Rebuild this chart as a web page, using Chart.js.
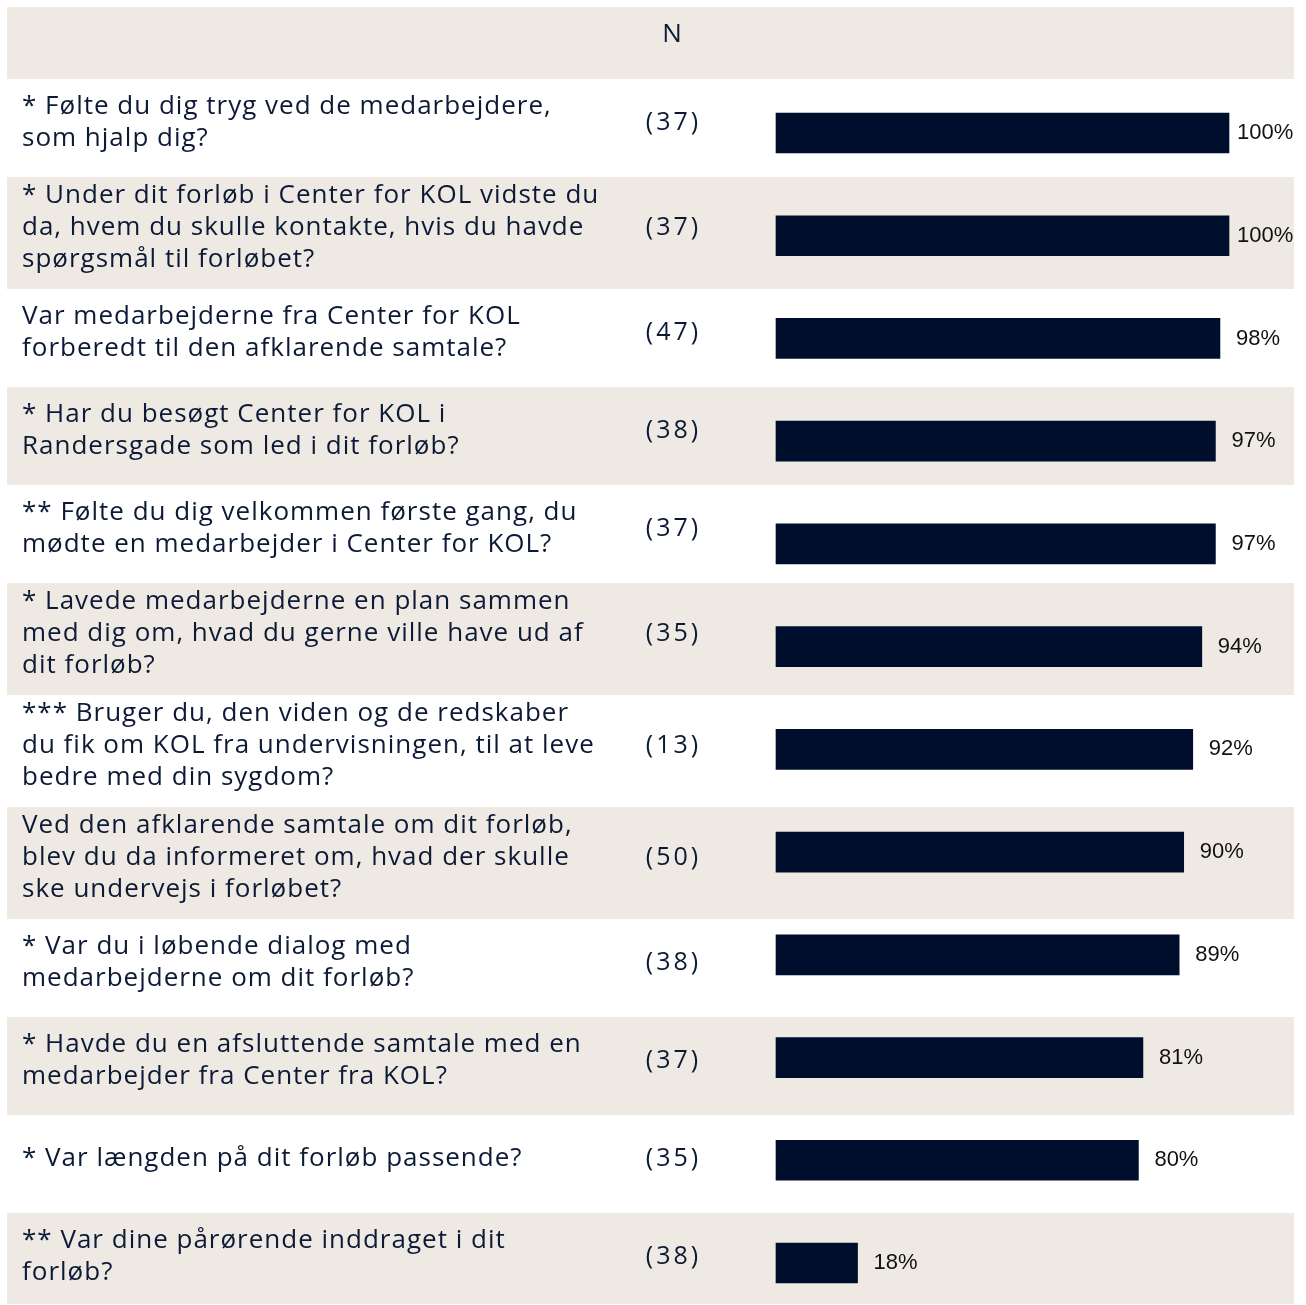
<!DOCTYPE html>
<html>
<head>
<meta charset="utf-8">
<script src="https://cdn.jsdelivr.net/npm/chart.js@4"></script>
<style>
html,body{margin:0;padding:0;background:#fff;}
canvas{display:block;}
</style>
</head>
<body>
<canvas id="c" width="1306" height="1305"></canvas>
<script>
// ---- data ----
const questions = [
  ["* Følte du dig tryg ved de medarbejdere,", "som hjalp dig?"],
  ["* Under dit forløb i Center for KOL vidste du", "da, hvem du skulle kontakte, hvis du havde", "spørgsmål til forløbet?"],
  ["Var medarbejderne fra Center for KOL", "forberedt til den afklarende samtale?"],
  ["* Har du besøgt Center for KOL i", "Randersgade som led i dit forløb?"],
  ["** Følte du dig velkommen første gang, du", "mødte en medarbejder i Center for KOL?"],
  ["* Lavede medarbejderne en plan sammen", "med dig om, hvad du gerne ville have ud af", "dit forløb?"],
  ["*** Bruger du, den viden og de redskaber", "du fik om KOL fra undervisningen, til at leve", "bedre med din sygdom?"],
  ["Ved den afklarende samtale om dit forløb,", "blev du da informeret om, hvad der skulle", "ske undervejs i forløbet?"],
  ["* Var du i løbende dialog med", "medarbejderne om dit forløb?"],
  ["* Havde du en afsluttende samtale med en", "medarbejder fra Center fra KOL?"],
  ["* Var længden på dit forløb passende?"],
  ["** Var dine pårørende inddraget i dit", "forløb?"]
];
const nValues = [37, 37, 47, 38, 37, 35, 13, 50, 38, 37, 35, 38];
const percentValues = [100, 100, 98, 97, 97, 94, 92, 90, 89, 81, 80, 18];
const headerLabel = "N";

// ---- styles ----
const BEIGE = "#eeeae3";
const NAVY = "#000e2e";
const TEXT = "#0d1a36";
const QFONT = "26px 'Open Sans'";
const NFONT = "25px 'Open Sans'";
const VFONT = "22px 'Liberation Sans', Arial, sans-serif";

function centeredText(ctx, txt, cx, y, spacing) {
  ctx.letterSpacing = spacing + "px";
  const w = ctx.measureText(txt).width - spacing;
  ctx.textAlign = "left";
  ctx.fillText(txt, cx - w / 2, y);
  ctx.letterSpacing = "0px";
}

const tablePlugin = {
  id: "tableRows",
  beforeDraw(chart) {
    const ctx = chart.ctx;
    ctx.save();
    ctx.fillStyle = "#fff";
    ctx.fillRect(0, 0, chart.width, chart.height);
    const left = 7, right = 1294;
    // header
    ctx.fillStyle = BEIGE;
    ctx.fillRect(left, 7, right - left, 72);
    ctx.fillStyle = TEXT;
    ctx.font = "26px 'Open Sans'";
    ctx.textBaseline = "middle";
    centeredText(ctx, headerLabel, 672, 35, 0);
    let y = 79;
    questions.forEach((lines, i) => {
      const h = Math.max(98, lines.length * 32 + 16);
      const bottom = y + h;
      if (i % 2 === 1) {
        ctx.fillStyle = BEIGE;
        ctx.fillRect(left, y, right - left, Math.min(bottom, 1304) - y);
      }
      const mid = (y + bottom) / 2 - 5;
      ctx.fillStyle = TEXT;
      ctx.font = QFONT;
      ctx.textAlign = "left";
      ctx.textBaseline = "middle";
      ctx.letterSpacing = "1px";
      const start = mid - (lines.length - 1) * 16;
      lines.forEach((ln, j) => ctx.fillText(ln, 22, start + j * 32));
      ctx.letterSpacing = "0px";
      ctx.font = NFONT;
      centeredText(ctx, "(" + nValues[i] + ")", 672, mid, 3);
      y = bottom;
    });
    ctx.restore();
  },
  afterDatasetsDraw(chart) {
    const ctx = chart.ctx;
    const meta = chart.getDatasetMeta(0);
    ctx.save();
    ctx.fillStyle = "#111";
    ctx.font = VFONT;
    ctx.textAlign = "left";
    ctx.textBaseline = "middle";
    const maxX = chart.chartArea.right + 8;
    meta.data.forEach((bar, i) => {
      const x = Math.min(bar.x + 16, maxX);
      ctx.fillText(percentValues[i] + "%", x, bar.y);
    });
    ctx.restore();
  }
};

new Chart(document.getElementById("c"), {
  type: "bar",
  data: {
    labels: questions.map(q => q.join(" ")),
    datasets: [{
      data: percentValues,
      backgroundColor: NAVY,
      borderWidth: 0,
      barThickness: 40,
      clip: false
    }]
  },
  options: {
    indexAxis: "y",
    responsive: false,
    animation: false,
    devicePixelRatio: 1,
    layout: { padding: { left: 776, right: 77, top: 133, bottom: 42 } },
    scales: {
      x: { min: 0, max: 100, display: false },
      y: { display: false, offset: false }
    },
    plugins: { legend: { display: false }, tooltip: { enabled: false } }
  },
  plugins: [tablePlugin]
});
</script>
</body>
</html>
